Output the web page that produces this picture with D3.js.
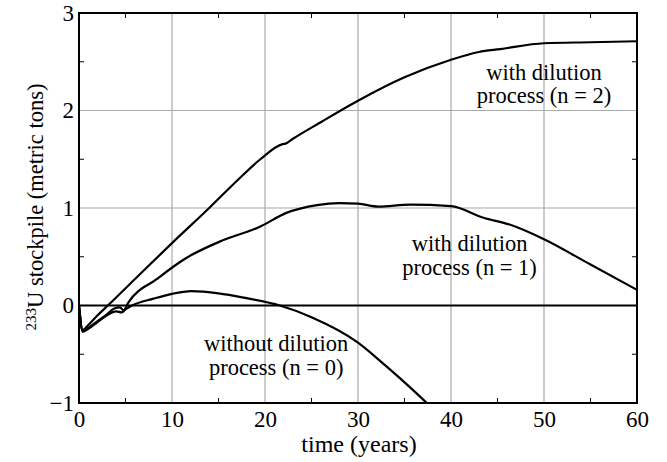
<!DOCTYPE html>
<html><head><meta charset="utf-8">
<script src="https://cdn.jsdelivr.net/npm/d3@7"></script>
<style>body{margin:0;background:#fff}svg{display:block}svg text{font-family:'Liberation Serif','Times New Roman',Times,serif !important;fill:#000}</style>
</head><body><svg id="c" width="667" height="462"></svg>
<script>
const xTicks = [0,10,20,30,40,50,60];
const yTicks = [-1,0,1,2,3];
const n2 = [[0,0],[0.4,-0.25],[1,-0.2],[2,-0.1],[3.1,0],[6,0.27],[10,0.64],[14,1.0],[17.1,1.29],[19.5,1.5],[21.9,1.655],[22.2,1.66],[23,1.71],[26,1.88],[30,2.1],[35,2.34],[40,2.52],[43,2.6],[45.3,2.63],[50,2.69],[55,2.7],[60,2.71]];
const n1 = [[0,0],[0.4,-0.26],[1,-0.23],[2,-0.16],[3,-0.09],[3.8,-0.03],[4.4,-0.02],[4.8,-0.05],[5.3,0.03],[8.35,0.27],[11.4,0.48],[15,0.65],[19.5,0.81],[22.3,0.95],[25.6,1.03],[28,1.05],[30,1.045],[32.2,1.015],[35.6,1.035],[40,1.02],[43.5,0.9],[46.3,0.83],[50,0.68],[55,0.42],[60,0.16]];
const n0 = [[0,0],[0.4,-0.27],[1,-0.24],[2,-0.17],[3,-0.1],[4,-0.06],[4.6,-0.07],[5,-0.04],[5.7,0],[8,0.07],[10,0.12],[12.1,0.147],[15,0.125],[18,0.075],[21.6,0],[25,-0.12],[30,-0.38],[33,-0.62],[35.6,-0.84],[37.4,-1]];
const labels = [
  {lines:["with dilution","process (n = 2)"], x:50.0, y:2.31},
  {lines:["with dilution","process (n = 1)"], x:42.0, y:0.555},
  {lines:["without dilution","process (n = 0)"], x:21.2, y:-0.47}
];
const SERIF = "'Liberation Serif','Times New Roman',Times,serif";

const svg = d3.select("#c");
const L=79, R=637, T=13, B=403;
const x = d3.scaleLinear().domain([0,60]).range([L,R]);
const y = d3.scaleLinear().domain([-1,3]).range([B,T]);

svg.append("g").selectAll("line").data(xTicks.slice(1,-1)).join("line")
  .attr("x1",d=>x(d)).attr("x2",d=>x(d)).attr("y1",T).attr("y2",B)
  .attr("stroke","#aaa").attr("stroke-width",1.2);
svg.append("g").selectAll("line").data(yTicks.filter(d=>d===1||d===2)).join("line")
  .attr("x1",L).attr("x2",R).attr("y1",d=>y(d)).attr("y2",d=>y(d))
  .attr("stroke","#aaa").attr("stroke-width",1.2);
svg.append("line").attr("x1",L).attr("x2",R).attr("y1",y(0)).attr("y2",y(0))
  .attr("stroke","#000").attr("stroke-width",2);

const xm = d3.range(5,60,10), ym = d3.range(-0.5,3,1);
const tk = svg.append("g").attr("stroke","#000").attr("stroke-width",1);
xm.forEach(d=>{
  tk.append("line").attr("x1",x(d)).attr("x2",x(d)).attr("y1",B).attr("y2",B-5);
  tk.append("line").attr("x1",x(d)).attr("x2",x(d)).attr("y1",T).attr("y2",T+5);
});
ym.forEach(d=>{
  tk.append("line").attr("x1",L).attr("x2",L+5).attr("y1",y(d)).attr("y2",y(d));
  tk.append("line").attr("x1",R).attr("x2",R-5).attr("y1",y(d)).attr("y2",y(d));
});

const xa = svg.append("g").attr("transform",`translate(0,${B})`)
  .call(d3.axisBottom(x).tickValues(xTicks).tickSize(0).tickPadding(7).tickFormat(d3.format("d")));
xa.attr("font-family",SERIF).attr("font-size",22);
xa.select(".domain").remove();
xa.selectAll("text").style("font-family",SERIF).style("font-size","23px").attr("dy","0.72em");
const ya = svg.append("g").attr("transform",`translate(${L},0)`)
  .call(d3.axisLeft(y).tickValues(yTicks).tickSize(0).tickPadding(5).tickFormat(d3.format("d")));
ya.attr("font-family",SERIF).attr("font-size",22);
ya.select(".domain").remove();
ya.selectAll("text").style("font-family",SERIF).style("font-size","23px");

const line = d3.line().x(d=>x(d[0])).y(d=>y(d[1])).curve(d3.curveMonotoneX);
[n2,n1,n0].forEach(s=>{
  svg.append("path").attr("d",line(s)).attr("fill","none").attr("stroke","#000").attr("stroke-width",2.2);
});

svg.append("rect").attr("x",L).attr("y",T).attr("width",R-L).attr("height",B-T)
  .attr("fill","none").attr("stroke","#000").attr("stroke-width",2);

labels.forEach(l=>{
  const t = svg.append("text").attr("text-anchor","middle").style("font-family",SERIF).style("font-size","22.5px")
    .attr("x",x(l.x)).attr("y",y(l.y));
  l.lines.forEach((s,i)=>t.append("tspan").attr("x",x(l.x)).attr("dy",i?"1.03em":0).text(s));
});

svg.append("text").attr("x",359).attr("y",452).attr("text-anchor","middle").style("font-family",SERIF).style("font-size","24px").text("time (years)");
const yt = svg.append("text").attr("transform","translate(43,207) rotate(-90)").attr("text-anchor","middle").style("font-family",SERIF).style("font-size","22.5px");
yt.append("tspan").style("font-size","15px").attr("dy","-0.45em").text("233");
yt.append("tspan").attr("dy","0.3em").text("U stockpile (metric tons)");
</script></body></html>
